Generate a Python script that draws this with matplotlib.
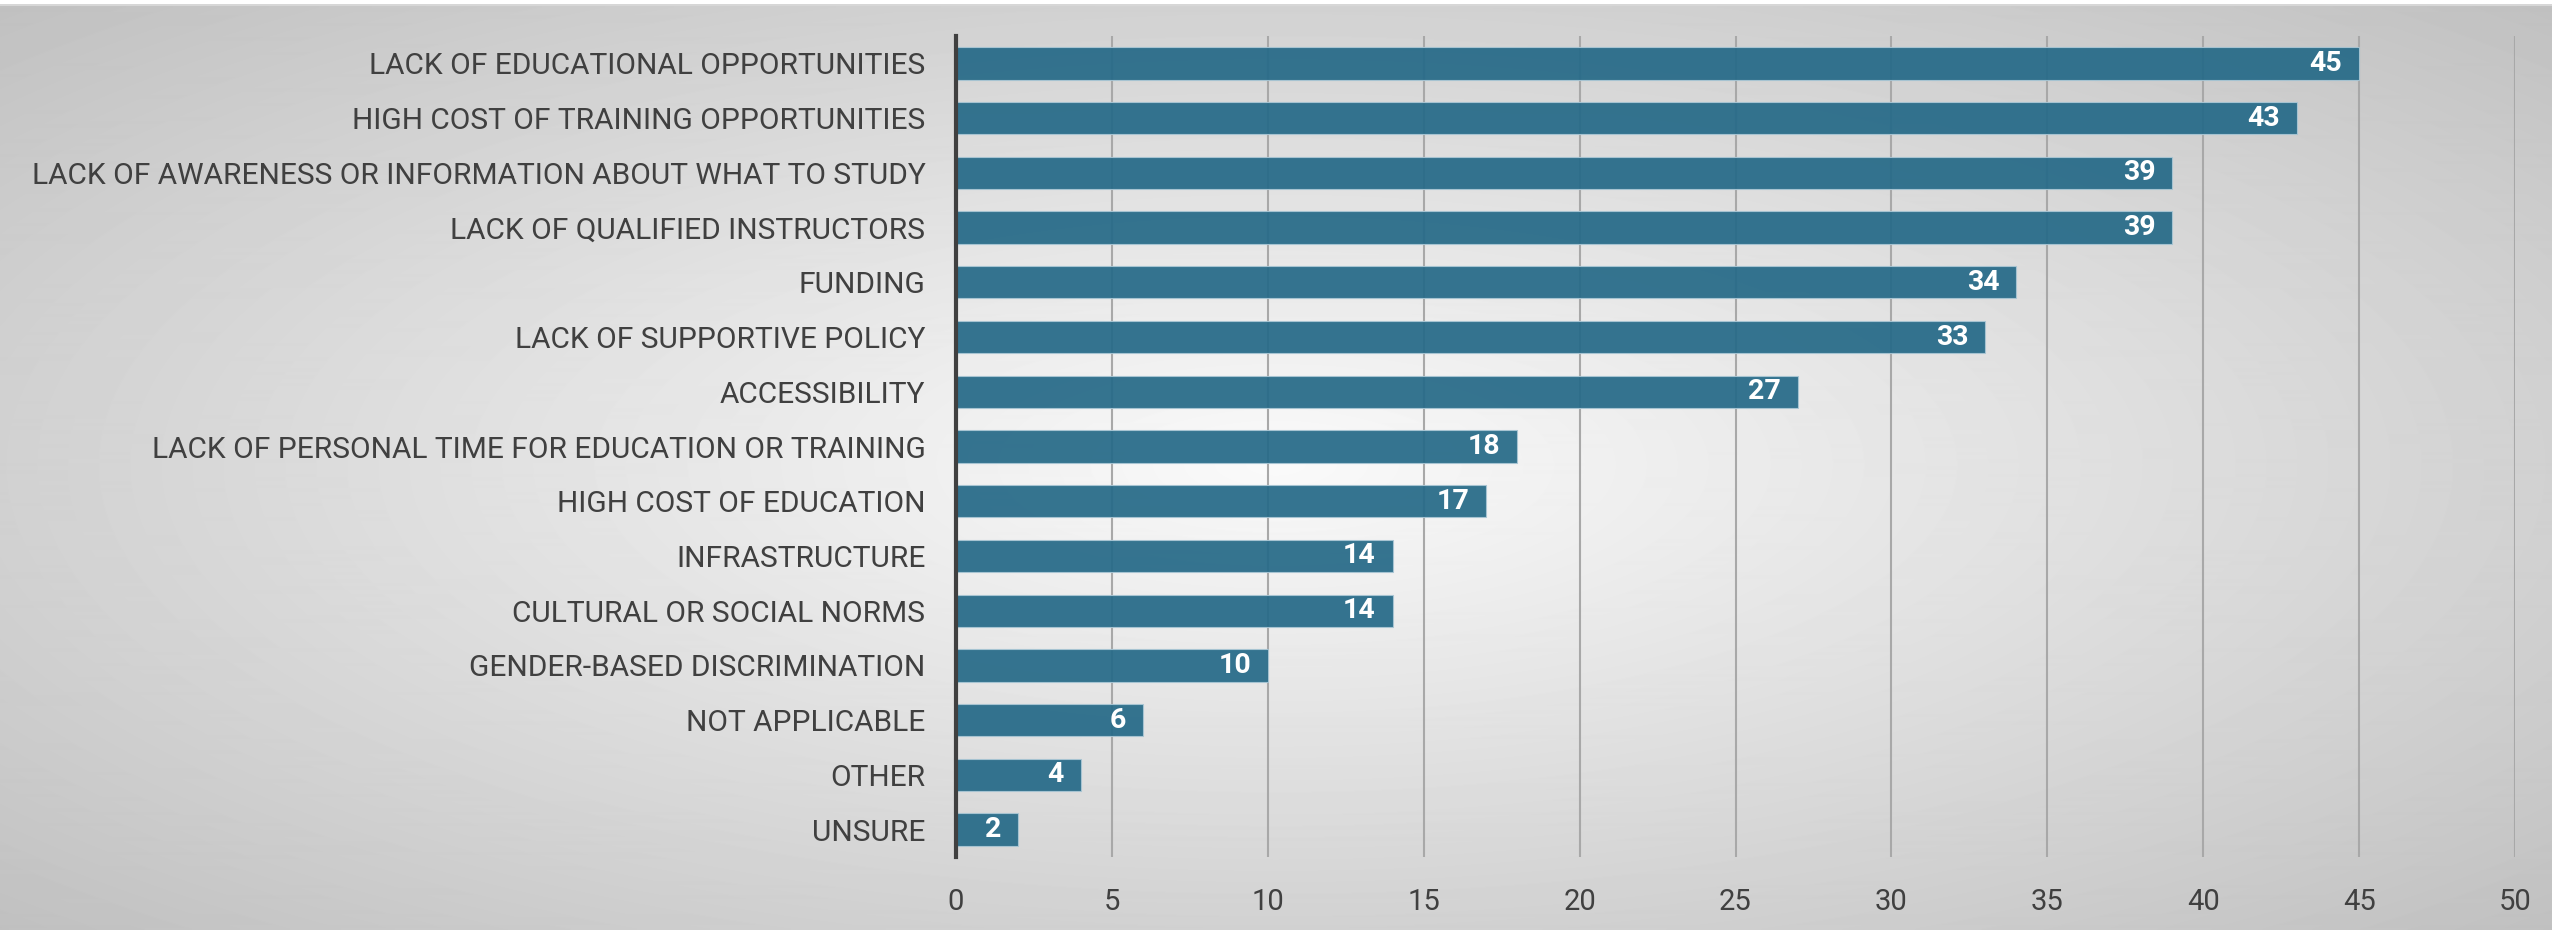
import numpy as np
import matplotlib.pyplot as plt

plt.rcParams['font.family'] = ['Roboto', 'DejaVu Sans']

categories = [
    "LACK OF EDUCATIONAL OPPORTUNITIES",
    "HIGH COST OF TRAINING OPPORTUNITIES",
    "LACK OF AWARENESS OR INFORMATION ABOUT WHAT TO STUDY",
    "LACK OF QUALIFIED INSTRUCTORS",
    "FUNDING",
    "LACK OF SUPPORTIVE POLICY",
    "ACCESSIBILITY",
    "LACK OF PERSONAL TIME FOR EDUCATION OR TRAINING",
    "HIGH COST OF EDUCATION",
    "INFRASTRUCTURE",
    "CULTURAL OR SOCIAL NORMS",
    "GENDER-BASED DISCRIMINATION",
    "NOT APPLICABLE",
    "OTHER",
    "UNSURE",
]
values = [45, 43, 39, 39, 34, 33, 27, 18, 17, 14, 14, 10, 6, 4, 2]
xticks = [0, 5, 10, 15, 20, 25, 30, 35, 40, 45, 50]

W, H = 2552, 930
fig = plt.figure(figsize=(W / 100, H / 100), dpi=100)

# radial grey background
yy, xx = np.mgrid[0:H, 0:W]
r = np.sqrt(((xx - 1276) / 1276) ** 2 + ((yy - 465) / 465) ** 2)
shade = (250 - 58 * (r / 1.414)) / 255
shade[:5, :] = 1.0
shade[5:7, :] = 0.84
bg = fig.add_axes([0, 0, 1, 1], zorder=0)
bg.imshow(shade, cmap='gray', vmin=0, vmax=1, aspect='auto', interpolation='bilinear')
bg.axis('off')

ax = fig.add_axes([956 / W, (H - 857) / H, (2515 - 956) / W, (857 - 36) / H], zorder=1)
ax.patch.set_alpha(0)

y = np.arange(len(categories))
ax.barh(y, values, height=0.59, color='#266a88', alpha=0.93,
        edgecolor='#a9c6d4', linewidth=0.8, zorder=3)

for yi, v in zip(y, values):
    ax.annotate(str(v), xy=(v, yi), xytext=(-12, 0), textcoords='offset points',
                ha='right', va='center', color='white', fontsize=20.5,
                fontweight='bold', zorder=4)

ax.set_xlim(0, 50)
ax.set_ylim(len(categories) - 0.5, -0.5)
ax.set_yticks(y)
ax.set_yticklabels(categories)
ax.set_xticks(xticks)
ax.tick_params(axis='y', length=0, pad=22, labelsize=21.5, labelcolor='#404040')
ax.tick_params(axis='x', length=0, pad=22, labelsize=21, labelcolor='#404040')

ax.grid(axis='x', color='#a8a8a8', linewidth=1.5, zorder=1)
ax.grid(axis='y', visible=False)
for s in ['top', 'right', 'bottom']:
    ax.spines[s].set_visible(False)
ax.spines['left'].set_color('#404040')
ax.spines['left'].set_linewidth(3)
ax.spines['left'].set_zorder(5)

fig.savefig('out.png', dpi=100)
